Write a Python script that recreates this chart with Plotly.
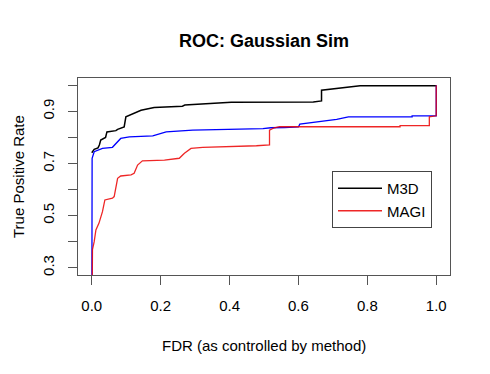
import plotly.graph_objects as go

# ---- data ----
title_text = "ROC: Gaussian Sim"
x_label = "FDR (as controlled by method)"
y_label = "True Positive Rate"

x_tick_vals = [0.0, 0.2, 0.4, 0.6, 0.8, 1.0]
x_tick_text = ["0.0", "0.2", "0.4", "0.6", "0.8", "1.0"]
y_tick_vals = [0.3, 0.4, 0.5, 0.6, 0.7, 0.8, 0.9, 1.0]
y_tick_text = ["0.3", "", "0.5", "", "0.7", "", "0.9", ""]

m3d_fdr = [0.000, 0.007, 0.018, 0.022, 0.026, 0.040, 0.044, 0.070, 0.075, 0.094,
           0.099, 0.123, 0.143, 0.181, 0.263, 0.270, 0.342, 0.405, 0.643, 0.667,
           0.667, 0.711, 0.779, 1.000]
m3d_tpr = [0.741, 0.754, 0.760, 0.771, 0.790, 0.800, 0.821, 0.826, 0.831, 0.840,
           0.879, 0.894, 0.904, 0.915, 0.920, 0.924, 0.930, 0.935, 0.936, 0.940,
           0.981, 0.987, 0.998, 0.998]

other_fdr = [0.000, 0.000, 0.001, 0.007, 0.022, 0.031, 0.060, 0.070, 0.084, 0.109,
             0.177, 0.216, 0.293, 0.497, 0.520, 0.560, 0.600, 0.604, 0.662, 0.711,
             0.745, 0.930, 0.930, 1.000, 1.000]
other_tpr = [0.000, 0.700, 0.720, 0.745, 0.755, 0.758, 0.762, 0.777, 0.796, 0.802,
             0.806, 0.821, 0.828, 0.834, 0.837, 0.838, 0.840, 0.851, 0.860, 0.869,
             0.879, 0.879, 0.883, 0.883, 1.000]

magi_fdr = [0.000, 0.001, 0.002, 0.007, 0.012, 0.021, 0.031, 0.038, 0.060, 0.065,
            0.075, 0.084, 0.114, 0.123, 0.133, 0.147, 0.211, 0.254, 0.269, 0.288,
            0.322, 0.478, 0.516, 0.516, 0.530, 0.545, 0.895, 0.895, 0.980, 0.980,
            1.000, 1.000]
magi_tpr = [0.000, 0.330, 0.369, 0.400, 0.445, 0.471, 0.515, 0.560, 0.567, 0.573,
            0.643, 0.652, 0.656, 0.662, 0.694, 0.710, 0.713, 0.720, 0.739, 0.758,
            0.762, 0.768, 0.771, 0.828, 0.837, 0.841, 0.841, 0.845, 0.845, 0.879,
            0.883, 1.000]

FONT = "Liberation Sans, Arial, Helvetica, sans-serif"

fig = go.Figure()
fig.add_trace(go.Scatter(x=m3d_fdr, y=m3d_tpr, mode="lines", name="M3D",
                         line=dict(color="#000000", width=1.5)))
fig.add_trace(go.Scatter(x=other_fdr, y=other_tpr, mode="lines", name="",
                         showlegend=False,
                         line=dict(color="#0000FF", width=1.3)))
fig.add_trace(go.Scatter(x=magi_fdr, y=magi_tpr, mode="lines", name="MAGI",
                         line=dict(color="rgba(235,0,0,0.85)", width=1.3)))

# page has an 8px body margin; figure sized to fit inside the window
OFF = 8
W, H = 474, 358
L, T = 70, 70
R = 32
B = 91
pw = W - L - R
ph = H - T - B


def px_x(page_x):
    return (page_x - OFF - L) / pw


def px_y(page_y):
    return (T + ph - (page_y - OFF)) / ph


fig.update_layout(
    width=W, height=H, autosize=False,
    margin=dict(l=L, r=R, t=T, b=B, pad=0),
    paper_bgcolor="white", plot_bgcolor="white",
    font=dict(family=FONT, size=15, color="#000"),
    title=dict(text="<b>" + title_text + "</b>", x=0.5, xref="paper",
               y=1 - (41 - OFF) / H, yref="container", yanchor="middle",
               xanchor="center",
               font=dict(family=FONT, size=18, color="#000")),
    showlegend=True,
    legend=dict(x=px_x(332), y=px_y(171), xanchor="left", yanchor="top",
                bgcolor="white", bordercolor="#444", borderwidth=1,
                itemwidth=44,
                font=dict(family=FONT, size=15, color="#000"),
                tracegroupgap=0),
)

fig.update_xaxes(range=[-0.04, 1.04], tickvals=x_tick_vals, ticktext=x_tick_text,
                 showgrid=False, zeroline=False, showline=True, mirror=True,
                 linecolor="#555", linewidth=1, ticks="outside", ticklen=9,
                 tickcolor="#555", tickwidth=1, ticklabelstandoff=8,
                 tickfont=dict(family=FONT, size=15, color="#000"))
fig.update_yaxes(range=[0.272, 1.028], tickvals=y_tick_vals, ticktext=y_tick_text,
                 tickangle=-90,
                 showgrid=False, zeroline=False, showline=True, mirror=True,
                 linecolor="#555", linewidth=1, ticks="outside", ticklen=9,
                 tickcolor="#555", tickwidth=1, ticklabelstandoff=8,
                 tickfont=dict(family=FONT, size=15, color="#000"))

fig.add_annotation(text=x_label, xref="paper", yref="paper",
                   x=px_x(264), y=px_y(345),
                   xanchor="center", yanchor="middle", showarrow=False,
                   font=dict(family=FONT, size=15, color="#000"))
fig.add_annotation(text=y_label, xref="paper", yref="paper",
                   x=px_x(18.5), y=0.5, textangle=-90,
                   xanchor="center", yanchor="middle", showarrow=False,
                   font=dict(family=FONT, size=15, color="#000"))

fig.write_html("out.html")
